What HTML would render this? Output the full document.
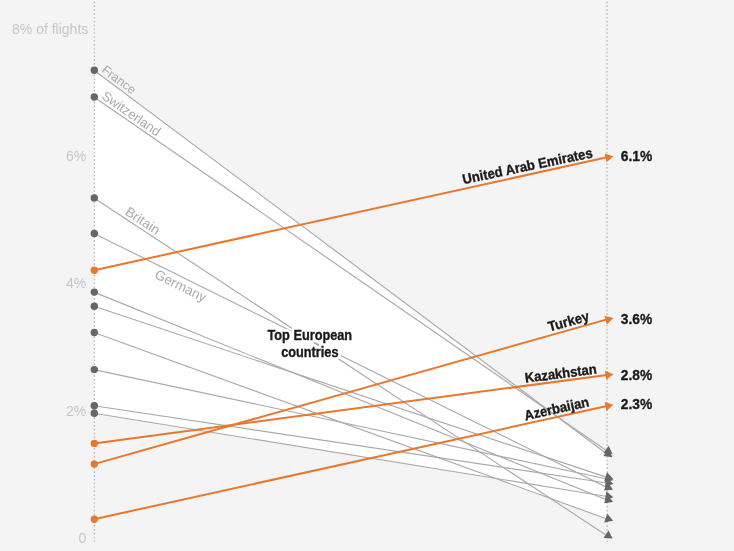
<!DOCTYPE html><html><head><meta charset="utf-8"><style>html,body{margin:0;padding:0;background:#f4f4f4;overflow:hidden}svg{display:block}text{font-family:"Liberation Sans",Arial,sans-serif}</style></head><body>
<svg width="734" height="551" viewBox="0 0 734 551">
<polygon points="94.0,70.2 554.4,414.7 555.7,415.6 607.0,451.0 607.0,519.0 495.4,478.4 494.1,478.2 94.0,413.2" fill="#fff"/>
<line x1="94.4" y1="0" x2="94.4" y2="542" stroke="#bababa" stroke-width="1.3" stroke-dasharray="1.7 2.15" stroke-dashoffset="-1.5"/>
<line x1="607.1" y1="0" x2="607.1" y2="542" stroke="#bababa" stroke-width="1.3" stroke-dasharray="1.7 2.15" stroke-dashoffset="-1.5"/>
<text x="88.3" y="33.5" font-size="14" fill="#c6c6c6" text-anchor="end">8% of flights</text>
<text x="86.3" y="160.9" font-size="14" fill="#c6c6c6" text-anchor="end">6%</text>
<text x="86.3" y="288.2" font-size="14" fill="#c6c6c6" text-anchor="end">4%</text>
<text x="86.3" y="415.6" font-size="14" fill="#c6c6c6" text-anchor="end">2%</text>
<text x="86.3" y="542.9" font-size="14" fill="#c6c6c6" text-anchor="end">0</text>
<line x1="94" y1="70.2" x2="607" y2="454.0" stroke="#aaaaaa" stroke-width="1.15"/>
<line x1="94" y1="97.0" x2="607" y2="451.0" stroke="#aaaaaa" stroke-width="1.15"/>
<line x1="94" y1="197.9" x2="607" y2="535.7" stroke="#aaaaaa" stroke-width="1.15"/>
<line x1="94" y1="233.5" x2="607" y2="487.5" stroke="#aaaaaa" stroke-width="1.15"/>
<line x1="94" y1="292.1" x2="607" y2="500.0" stroke="#aaaaaa" stroke-width="1.15"/>
<line x1="94" y1="306.2" x2="607" y2="477.4" stroke="#aaaaaa" stroke-width="1.15"/>
<line x1="94" y1="332.5" x2="607" y2="519.0" stroke="#aaaaaa" stroke-width="1.15"/>
<line x1="94" y1="369.6" x2="607" y2="479.0" stroke="#aaaaaa" stroke-width="1.15"/>
<line x1="94" y1="405.8" x2="607" y2="483.0" stroke="#aaaaaa" stroke-width="1.15"/>
<line x1="94" y1="413.2" x2="607" y2="496.5" stroke="#aaaaaa" stroke-width="1.15"/>
<text transform="translate(100.92 71.38) rotate(36.80) scale(1.000 1)" font-size="12.5" fill="#ababab" font-weight="normal" text-anchor="start">France</text>
<text transform="translate(100.70 97.98) rotate(34.61) scale(1.000 1)" font-size="13.2" fill="#ababab" font-weight="normal" text-anchor="start">Switzerland</text>
<text transform="translate(124.26 213.99) rotate(33.36) scale(1.000 1)" font-size="13.5" fill="#ababab" font-weight="normal" text-anchor="start">Britain</text>
<text transform="translate(153.73 277.58) rotate(26.34) scale(1.000 1)" font-size="13.5" fill="#ababab" font-weight="normal" text-anchor="start">Germany</text>
<polygon points="612.44,457.17 603.33,456.09 608.83,448.74" fill="#666"/>
<circle cx="94.3" cy="70.2" r="3.7" fill="#666"/>
<polygon points="612.56,454.01 603.41,453.27 608.63,445.72" fill="#666"/>
<circle cx="94.3" cy="97.0" r="3.7" fill="#666"/>
<polygon points="612.63,538.61 603.46,538.08 608.51,530.41" fill="#666"/>
<circle cx="94.3" cy="197.9" r="3.7" fill="#666"/>
<polygon points="612.95,489.85 603.79,490.44 607.86,482.21" fill="#666"/>
<circle cx="94.3" cy="233.5" r="3.7" fill="#666"/>
<polygon points="613.11,501.99 604.02,503.26 607.47,494.75" fill="#666"/>
<circle cx="94.3" cy="292.1" r="3.7" fill="#666"/>
<polygon points="613.23,479.08 604.23,480.91 607.14,472.21" fill="#666"/>
<circle cx="94.3" cy="306.2" r="3.7" fill="#666"/>
<polygon points="613.18,520.81 604.14,522.41 607.28,513.78" fill="#666"/>
<circle cx="94.3" cy="332.5" r="3.7" fill="#666"/>
<polygon points="613.38,480.11 604.65,482.94 606.57,473.96" fill="#666"/>
<circle cx="94.3" cy="369.6" r="3.7" fill="#666"/>
<polygon points="613.44,483.79 604.90,487.14 606.26,478.07" fill="#666"/>
<circle cx="94.3" cy="405.8" r="3.7" fill="#666"/>
<polygon points="613.43,497.35 604.85,500.61 606.32,491.54" fill="#666"/>
<circle cx="94.3" cy="413.2" r="3.7" fill="#666"/>
<line x1="94" y1="270.3" x2="607" y2="157.3" stroke="#e8782c" stroke-width="2"/>
<polygon points="613.38,156.16 606.60,162.35 604.62,153.39" fill="#e8782c"/>
<circle cx="94.3" cy="270.3" r="3.7" fill="#e8782c"/>
<line x1="94" y1="464.1" x2="607" y2="319.4" stroke="#e8782c" stroke-width="2"/>
<polygon points="613.30,317.96 606.90,324.54 604.40,315.70" fill="#e8782c"/>
<circle cx="94.3" cy="464.1" r="3.7" fill="#e8782c"/>
<line x1="94" y1="443.4" x2="607" y2="374.9" stroke="#e8782c" stroke-width="2"/>
<polygon points="613.45,374.20 606.18,379.80 604.97,370.70" fill="#e8782c"/>
<circle cx="94.3" cy="443.4" r="3.7" fill="#e8782c"/>
<line x1="94" y1="519.2" x2="607" y2="406.0" stroke="#e8782c" stroke-width="2"/>
<polygon points="613.38,404.86 606.60,411.05 604.62,402.09" fill="#e8782c"/>
<circle cx="94.3" cy="519.2" r="3.7" fill="#e8782c"/>
<text transform="translate(593.35 157.23) rotate(-11.72) scale(0.935 1)" font-size="14" fill="#1a1a1a" font-weight="bold" text-anchor="end" stroke="#1a1a1a" stroke-width="0.35">United Arab Emirates</text>
<text x="620.8" y="161.3" font-size="13.8" font-weight="bold" fill="#1a1a1a" stroke="#1a1a1a" stroke-width="0.3">6.1%</text>
<text transform="translate(590.02 320.45) rotate(-15.25) scale(0.935 1)" font-size="14" fill="#1a1a1a" font-weight="bold" text-anchor="end" stroke="#1a1a1a" stroke-width="0.35">Turkey</text>
<text x="620.8" y="323.6" font-size="13.8" font-weight="bold" fill="#1a1a1a" stroke="#1a1a1a" stroke-width="0.3">3.6%</text>
<text transform="translate(597.16 373.59) rotate(-7.31) scale(0.930 1)" font-size="14" fill="#1a1a1a" font-weight="bold" text-anchor="end" stroke="#1a1a1a" stroke-width="0.35">Kazakhstan</text>
<text x="620.8" y="380.4" font-size="13.8" font-weight="bold" fill="#1a1a1a" stroke="#1a1a1a" stroke-width="0.3">2.8%</text>
<text transform="translate(589.75 406.22) rotate(-12.44) scale(0.930 1)" font-size="14" fill="#1a1a1a" font-weight="bold" text-anchor="end" stroke="#1a1a1a" stroke-width="0.35">Azerbaijan</text>
<text x="620.8" y="408.8" font-size="13.8" font-weight="bold" fill="#1a1a1a" stroke="#1a1a1a" stroke-width="0.3">2.3%</text>
<g font-size="14" font-weight="bold" fill="#1a1a1a" text-anchor="middle"><g stroke="#fff" stroke-width="6" stroke-linejoin="round"><text transform="translate(309.8 339.6) scale(0.91 1)">Top European</text><text transform="translate(309.8 357.0) scale(0.91 1)">countries</text></g><g stroke="#1a1a1a" stroke-width="0.35"><text transform="translate(309.8 339.6) scale(0.91 1)">Top European</text><text transform="translate(309.8 357.0) scale(0.91 1)">countries</text></g></g>
</svg></body></html>
